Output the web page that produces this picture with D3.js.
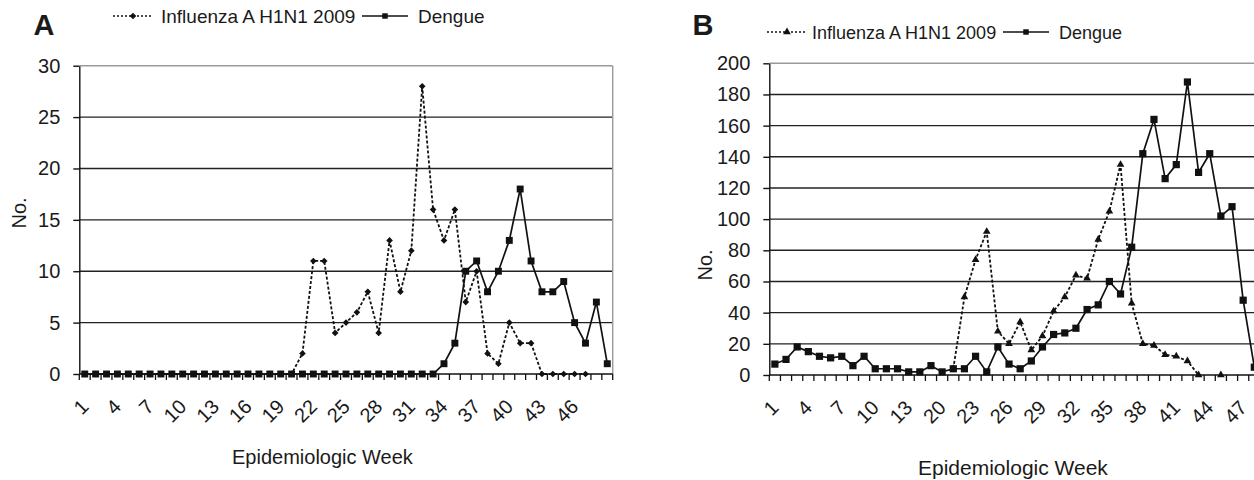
<!DOCTYPE html>
<html>
<head>
<meta charset="utf-8">
<script src="https://cdn.jsdelivr.net/npm/d3@7"></script>
<style>
body { margin: 0; background: #fff; }
text { font-family: "Liberation Sans", Arial, sans-serif; fill: #1a1a1a; }
</style>
</head>
<body>
<svg id="chart" width="1254" height="480"></svg>
<script>
// panel A: weeks 1-49
var weeksA = ["1","2","3","4","5","6","7","8","9","10","11","12","13","14","15","16","17","18","19","20",
  "21","22","23","24","25","26","27","28","29","30","31","32","33","34","35","36","37","38","39","40",
  "41","42","43","44","45","46","47","48","49"];
var fluA = [0,0,0,0,0,0,0,0,0,0,0,0,0,0,0,0,0,0,0,0,
  2,11,11,4,5,6,8,4,13,8,12,28,16,13,16,7,10,2,1,5,
  3,3,0,0,0,0,0,null,null];
var dengueA = [0,0,0,0,0,0,0,0,0,0,0,0,0,0,0,0,0,0,0,0,
  0,0,0,0,0,0,0,0,0,0,0,0,0,1,3,10,11,8,10,13,
  18,11,8,8,9,5,3,7,1];
var tickLabelsA = ["1","4","7","10","13","16","19","22","25","28","31","34","37","40","43","46"];

// panel B
var weeksB = ["1","2","3","4","5","6","7","8","9","10","11","12","13","18","19","20",
  "21","22","23","24","25","26","27","28","29","30","31","32","33","34","35","36","37","38","39","40",
  "41","42","43","44","45","46","47","48"];
var fluB = [null,null,null,null,null,null,null,null,null,null,null,null,null,null,null,null,
  4,50,74,92,28,20,34,16,25,41,50,64,62,87,105,135,46,20,19,13,12,9,0,null,
  0,null,null,null];
var dengueB = [7,10,18,15,12,11,12,6,12,4,4,4,2,2,6,2,
  4,4,12,2,18,7,4,9,18,26,27,30,42,45,60,52,82,142,164,126,135,188,130,142,
  102,108,48,5];
var tickLabelsB = ["1","4","7","10","13","20","23","26","29","32","35","38","41","44","47"];

var svg = d3.select("#chart");
svg.append("rect").attr("width", 1254).attr("height", 480).attr("fill", "#fff");

function panel(o) {
  var g = svg.append("g");
  var x = d3.scaleBand().domain(o.cats).range([o.left, o.left + o.cats.length * o.step]).padding(0);
  var y = d3.scaleLinear().domain([0, o.max]).range([o.bottom, o.top]);
  var xEnd = x.range()[1];
  var bw = x.bandwidth();
  var yt = y.ticks(o.nt);

  // gridlines
  g.selectAll(".grid").data(yt.filter(function(v) { return v > 0; }))
    .enter().append("line")
    .attr("x1", o.left).attr("x2", xEnd)
    .attr("y1", function(v) { return y(v); }).attr("y2", function(v) { return y(v); })
    .attr("stroke", function(v) { return v == o.max ? "#9a9a9a" : "#222"; })
    .attr("stroke-width", 1.4);
  if (o.border) {
    g.append("line").attr("x1", xEnd).attr("x2", xEnd).attr("y1", y(o.max)).attr("y2", o.bottom)
      .attr("stroke", "#9a9a9a").attr("stroke-width", 1.4);
  }

  // y axis
  var ya = g.append("g").attr("transform", "translate(" + o.left + ",0)")
    .call(d3.axisLeft(y).tickValues(yt).tickSize(6).tickSizeOuter(0).tickPadding(13));
  ya.select(".domain").attr("stroke", "#111").attr("stroke-width", 1.4);
  ya.selectAll(".tick line").attr("stroke", "#111").attr("stroke-width", 1.4);
  ya.selectAll(".tick text").style("font-size", "20px").style("font-family", "Liberation Sans, Arial, sans-serif").attr("fill", "#1a1a1a");

  // x axis
  g.append("line").attr("x1", o.left).attr("x2", xEnd).attr("y1", o.bottom).attr("y2", o.bottom)
    .attr("stroke", "#111").attr("stroke-width", 1.4);
  g.selectAll(".xt").data(o.cats.concat(["end"])).enter().append("line")
    .attr("x1", function(c) { return c == "end" ? xEnd : x(c); })
    .attr("x2", function(c) { return c == "end" ? xEnd : x(c); })
    .attr("y1", o.bottom).attr("y2", o.bottom + 6)
    .attr("stroke", "#111").attr("stroke-width", 1.3);
  g.selectAll(".xl").data(o.ticks).enter().append("text")
    .attr("transform", function(c) { return "translate(" + (x(c) + bw / 2 + 5) + "," + (o.bottom + 34) + ") rotate(-45)"; })
    .attr("text-anchor", "end")
    .style("font-size", "20px")
    .text(function(c) { return c; });

  // titles
  g.append("text").attr("x", o.titleX).attr("y", o.titleY)
    .style("font-size", o.titleSize + "px").text("Epidemiologic Week");
  g.append("text").attr("transform", "translate(" + o.noX + "," + o.noY + ") rotate(-90)")
    .attr("text-anchor", "middle").style("font-size", "20px").text("No.");
  g.append("text").attr("x", o.letterX).attr("y", 35)
    .attr("text-anchor", "middle").style("font-size", "29px").style("font-weight", "bold").text(o.letter);

  // series
  var px = function(i) { return x(o.cats[i]) + bw / 2; };
  var line = d3.line()
    .defined(function(d) { return d != null; })
    .x(function(d, i) { return px(i); })
    .y(function(d) { return y(d); });

  var fluPts = o.flu.map(function(v, i) { return { i: i, v: v }; })
    .filter(function(p) { return p.v != null; });

  g.append("path").attr("d", line(o.flu)).attr("fill", "none")
    .attr("stroke", "#111").attr("stroke-width", 1.8).attr("stroke-dasharray", "3,2");
  g.selectAll(".fm").data(fluPts).enter().append("path")
    .attr("d", d3.symbol().type(o.fluSym).size(o.fluSize))
    .attr("transform", function(p) { return "translate(" + px(p.i) + "," + y(p.v) + ")"; })
    .attr("fill", "#111");

  g.append("path").attr("d", line(o.den)).attr("fill", "none")
    .attr("stroke", "#111").attr("stroke-width", 1.7);
  g.selectAll(".dm").data(o.den).enter().append("path")
    .attr("d", d3.symbol().type(d3.symbolSquare).size(o.sqSize))
    .attr("transform", function(d, i) { return "translate(" + px(i) + "," + y(d) + ")"; })
    .attr("fill", "#111");

  // legend
  var L = o.leg;
  g.append("line").attr("x1", L.x1).attr("x2", L.x1 + 40).attr("y1", L.y).attr("y2", L.y)
    .attr("stroke", "#111").attr("stroke-width", 1.4).attr("stroke-dasharray", "2,2");
  g.append("path").attr("d", d3.symbol().type(o.fluSym).size(o.fluSize))
    .attr("transform", "translate(" + (L.x1 + 20) + "," + L.y + ")").attr("fill", "#111");
  g.append("text").attr("x", L.t1).attr("y", L.y + 7).style("font-size", L.fs + "px").text("Influenza A H1N1 2009");
  g.append("line").attr("x1", L.x2).attr("x2", L.x2 + 46).attr("y1", L.y).attr("y2", L.y)
    .attr("stroke", "#111").attr("stroke-width", 1.6);
  g.append("path").attr("d", d3.symbol().type(d3.symbolSquare).size(30))
    .attr("transform", "translate(" + (L.x2 + 23) + "," + L.y + ")").attr("fill", "#111");
  g.append("text").attr("x", L.t2).attr("y", L.y + 7).style("font-size", L.fs + "px").text("Dengue");
}

panel({
  cats: weeksA, flu: fluA, den: dengueA, ticks: tickLabelsA,
  left: 79.3, step: 10.886, top: 65.7, bottom: 374, max: 30, nt: 6, border: true,
  fluSym: d3.symbolDiamond2, fluSize: 28, sqSize: 48,
  titleX: 232, titleY: 464, titleSize: 20, noX: 26, noY: 213,
  letter: "A", letterX: 44,
  leg: { x1: 113, t1: 161, x2: 362, t2: 418, y: 16, fs: 19 }
});

panel({
  cats: weeksB, flu: fluB, den: dengueB, ticks: tickLabelsB,
  left: 769.3, step: 11.15, top: 63.3, bottom: 375, max: 200, nt: 10, border: false,
  fluSym: d3.symbolTriangle, fluSize: 26, sqSize: 52,
  titleX: 918, titleY: 475, titleSize: 21, noX: 712, noY: 265,
  letter: "B", letterX: 703,
  leg: { x1: 767, t1: 812, x2: 1003, t2: 1059, y: 32, fs: 18 }
});
</script>
</body>
</html>
